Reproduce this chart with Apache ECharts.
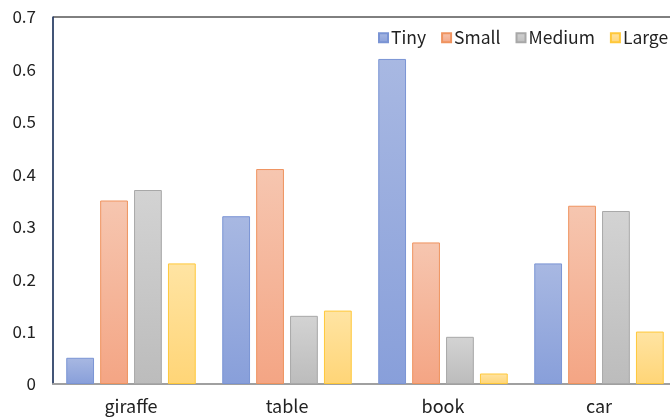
<!DOCTYPE html>
<html>
<head>
<meta charset="utf-8">
<script src="https://cdn.jsdelivr.net/npm/echarts@6/dist/echarts.min.js"></script>
<style>html,body{margin:0;padding:0;background:#fff}#chart{width:670px;height:418px}</style>
</head>
<body>
<div id="chart"></div>
<script>
// Object categories and per-size values
const categories = ['giraffe', 'table', 'book', 'car'];
const tiny = [0.05, 0.32, 0.62, 0.23];
const small = [0.35, 0.41, 0.27, 0.34];
const medium = [0.37, 0.13, 0.09, 0.33];
const large = [0.23, 0.14, 0.02, 0.10];
const seriesNames = ['Tiny', 'Small', 'Medium', 'Large'];

const palette = [
  { top: '#a8b8e2', bottom: '#889fda', border: '#7a94d4', icon: '#8ea4dc' },
  { top: '#f6c6b0', bottom: '#f4a584', border: '#ef935f', icon: '#f4a584' },
  { top: '#d3d3d3', bottom: '#bcbcbc', border: '#a8a8a8', icon: '#bfbfbf' },
  { top: '#ffe4a3', bottom: '#ffd577', border: '#ffc83a', icon: '#ffd577' }
];

const FONT = '"Noto Sans CJK SC", "Noto Sans", sans-serif';

function makeSeries(name, data, c) {
  return {
    name: name,
    type: 'bar',
    data: data,
    barGap: '22%',
    barCategoryGap: '17%',
    itemStyle: {
      color: new echarts.graphic.LinearGradient(0, 0, 0, 1, [
        { offset: 0, color: c.top },
        { offset: 1, color: c.bottom }
      ]),
      borderColor: c.border,
      borderWidth: 1
    }
  };
}

const chart = echarts.init(document.getElementById('chart'), null, { renderer: 'canvas' });
chart.setOption({
  animation: false,
  backgroundColor: '#fff',
  color: palette.map(p => p.icon),
  // plot area runs past the right edge of the canvas
  grid: {
    left: 53, width: 624, top: 17, height: 367,
    outerBoundsMode: 'none',
    show: true, borderColor: '#000', borderWidth: 1, backgroundColor: 'transparent'
  },
  legend: {
    data: seriesNames,
    left: 373, top: 24, width: 400,
    itemWidth: 9, itemHeight: 9, itemGap: 15,
    icon: 'rect',
    textStyle: { fontFamily: FONT, fontSize: 17.5, color: '#222', padding: [0, 0, 0, -2] }
  },
  xAxis: {
    type: 'category',
    data: categories,
    axisLine: { lineStyle: { color: '#a0a0a0', width: 2 } },
    axisTick: { show: false },
    axisLabel: { fontFamily: FONT, fontSize: 18, color: '#222', margin: 13 }
  },
  yAxis: {
    type: 'value',
    min: 0, max: 0.7, interval: 0.1,
    axisLine: { show: true, lineStyle: { color: '#2f4775', width: 1.5 } },
    axisTick: { show: false },
    splitLine: { show: false },
    axisLabel: {
      fontFamily: FONT, fontSize: 17, color: '#222', margin: 17,
      formatter: v => String(Math.round(v * 10) / 10)
    }
  },
  series: [
    makeSeries('Tiny', tiny, palette[0]),
    makeSeries('Small', small, palette[1]),
    makeSeries('Medium', medium, palette[2]),
    makeSeries('Large', large, palette[3])
  ]
});
</script>
</body>
</html>
